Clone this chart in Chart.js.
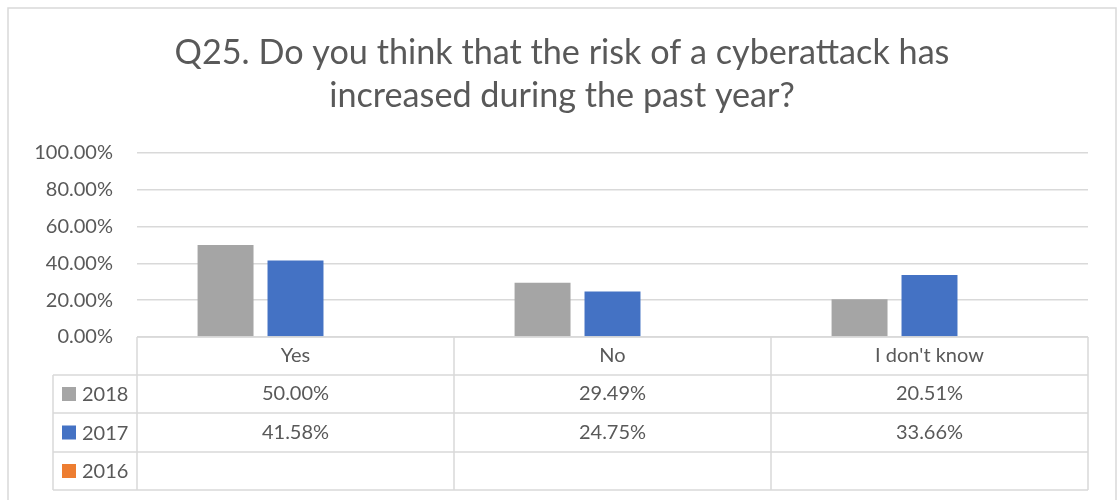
<!DOCTYPE html>
<html>
<head>
<meta charset="utf-8">
<script src="https://cdn.jsdelivr.net/npm/chart.js@4"></script>
<style>
  html, body { margin: 0; padding: 0; background: #fff; }
  canvas { display: block; }
</style>
</head>
<body>
<canvas id="c" width="1117" height="500"></canvas>
<script>
// Survey answers by year (percent of respondents)
const categories = ['Yes', 'No', "I don't know"];
const years = ['2018', '2017', '2016'];
const values2018 = [50.00, 29.49, 20.51];
const values2017 = [41.58, 24.75, 33.66];
const values2016 = [null, null, null];
const yTicks = [0, 20, 40, 60, 80, 100];
const titleLines = ['Q25. Do you think that the risk of a cyberattack has', 'increased during the past year?'];

const seriesColors = ['#A5A5A5', '#4472C4', '#ED7D31'];
const textColor = '#595959';
const lineColor = '#D9D9D9';
const fontFamily = 'Lato, "Open Sans", sans-serif';

const fmt = v => (v === null || v === undefined) ? '' : v.toFixed(2) + '%';

// Frame around the whole chart
const framePlugin = {
  id: 'frame',
  beforeDraw(chart) {
    const ctx = chart.ctx;
    ctx.save();
    ctx.strokeStyle = lineColor;
    ctx.lineWidth = 1.5;
    ctx.beginPath();
    ctx.moveTo(8, chart.height);
    ctx.lineTo(8, 8);
    ctx.lineTo(1116, 8);
    ctx.lineTo(1116, chart.height);
    ctx.stroke();
    ctx.restore();
  }
};

// Data table under the plot: category header row, one row per series with legend key
const dataTablePlugin = {
  id: 'dataTable',
  afterDraw(chart) {
    const ctx = chart.ctx;
    const area = chart.chartArea;
    const xs = chart.scales.x;
    const n = categories.length;
    const colW = (area.right - area.left) / n;
    const top = area.bottom;
    const rowH = [38, 38, 39, 38];
    const rowsY = [top];
    rowH.forEach(h => rowsY.push(rowsY[rowsY.length - 1] + h));
    const bottom = rowsY[rowsY.length - 1];
    const keyLeft = 53;

    ctx.save();
    ctx.strokeStyle = lineColor;
    ctx.lineWidth = 1.5;
    ctx.beginPath();
    // horizontal rules
    ctx.moveTo(area.left, rowsY[0]); ctx.lineTo(area.right, rowsY[0]);
    for (let i = 1; i < rowsY.length; i++) {
      ctx.moveTo(keyLeft, rowsY[i]); ctx.lineTo(area.right, rowsY[i]);
    }
    // vertical rules between category columns
    for (let i = 0; i <= n; i++) {
      const x = area.left + i * colW;
      ctx.moveTo(x, top); ctx.lineTo(x, bottom);
    }
    ctx.moveTo(keyLeft, rowsY[1]); ctx.lineTo(keyLeft, bottom);
    ctx.stroke();

    ctx.fillStyle = textColor;
    ctx.font = '20px ' + fontFamily;
    ctx.textAlign = 'center';
    ctx.textBaseline = 'middle';
    // category header
    categories.forEach((c, i) => {
      ctx.fillText(c, xs.getPixelForValue(i), (rowsY[0] + rowsY[1]) / 2);
    });
    // series rows
    chart.data.datasets.forEach((ds, r) => {
      const yMid = (rowsY[r + 1] + rowsY[r + 2]) / 2;
      ds.data.forEach((v, i) => {
        ctx.textAlign = 'center';
        ctx.fillStyle = textColor;
        ctx.fillText(fmt(v), xs.getPixelForValue(i), yMid);
      });
      ctx.fillStyle = ds.backgroundColor;
      ctx.fillRect(62, yMid - 7, 14, 14);
      ctx.fillStyle = textColor;
      ctx.textAlign = 'left';
      ctx.fillText(ds.label, 82, yMid + 1);
    });
    ctx.restore();
  }
};

new Chart(document.getElementById('c'), {
  type: 'bar',
  data: {
    labels: categories,
    datasets: [
      { label: years[0], data: values2018, backgroundColor: seriesColors[0] },
      { label: years[1], data: values2017, backgroundColor: seriesColors[1] },
      { label: years[2], data: values2016, backgroundColor: seriesColors[2] }
    ]
  },
  options: {
    responsive: false,
    animation: false,
    events: [],
    layout: { padding: { top: 31, right: 29, bottom: 163, left: 36 } },
    datasets: { bar: { categoryPercentage: 0.662, barPercentage: 0.8 } },
    plugins: {
      legend: { display: false },
      tooltip: { enabled: false },
      title: {
        display: true,
        text: titleLines,
        color: textColor,
        font: { family: fontFamily, size: 34.2, weight: 'normal', lineHeight: 1.27 },
        padding: { top: 0, bottom: 35 }
      }
    },
    scales: {
      x: { display: false },
      y: {
        min: 0,
        max: 100,
        afterBuildTicks: s => { s.ticks = yTicks.map(v => ({ value: v })); },
        afterFit: s => { s.width = 101; },
        border: { display: false },
        grid: { color: lineColor, lineWidth: 1.5, drawTicks: false },
        ticks: {
          padding: 24,
          color: textColor,
          font: { family: fontFamily, size: 20 },
          callback: v => v.toFixed(2) + '%'
        }
      }
    }
  },
  plugins: [framePlugin, dataTablePlugin]
});
</script>
</body>
</html>
